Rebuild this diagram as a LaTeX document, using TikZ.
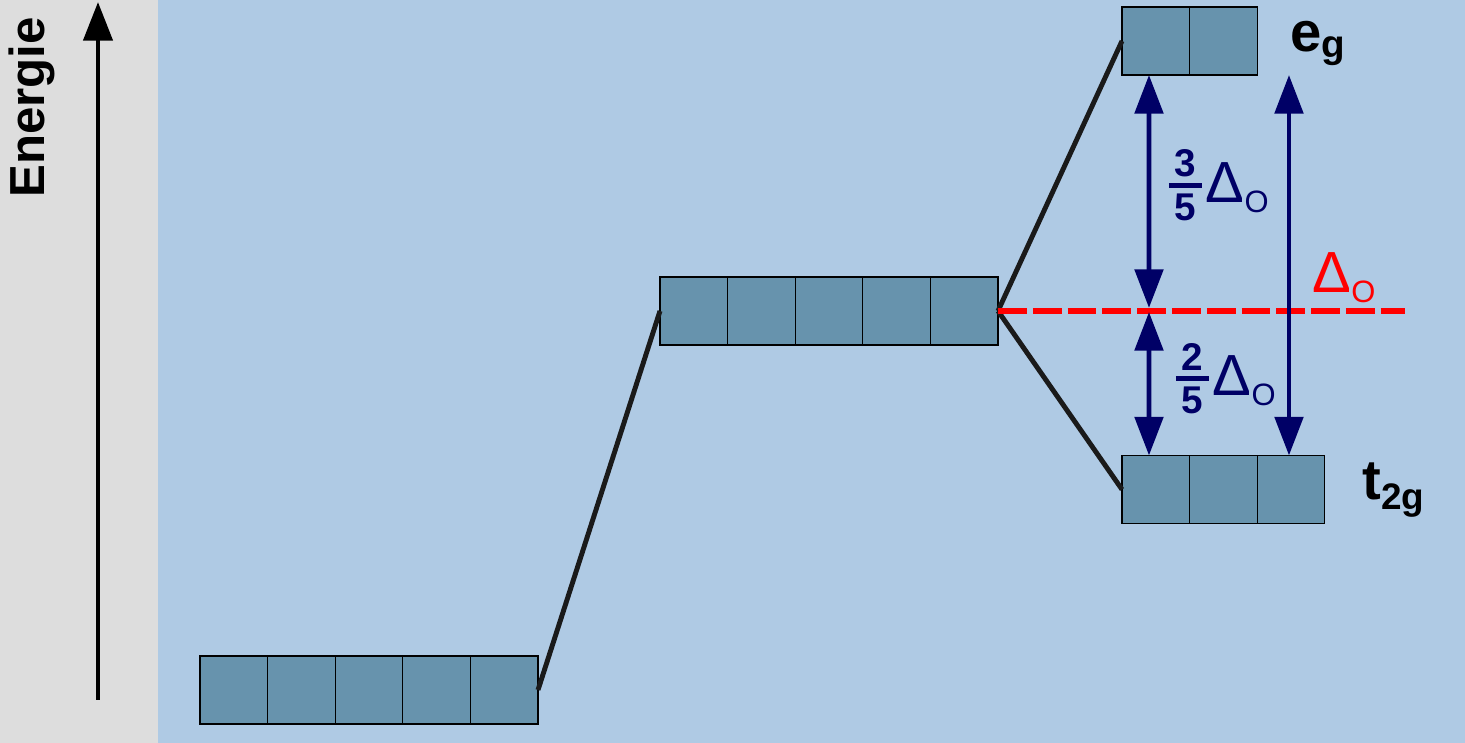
\documentclass[tikz,border=0pt]{standalone}
\usepackage{fontspec}
\setmainfont{Liberation Sans}
\usepackage{amsmath}
\usetikzlibrary{positioning, arrows.meta}

\definecolor{panelgray}{RGB}{221,221,221}
\definecolor{bgblue}{RGB}{175,202,228}
\definecolor{boxblue}{RGB}{103,147,173}
\definecolor{linegray}{RGB}{26,26,26}
\definecolor{splitnavy}{RGB}{0,0,102}

\newcommand{\dO}{{\fontsize{16.5}{18}\selectfont Δ}\raisebox{-2.8pt}{\fontsize{8.8}{10}\selectfont O}}
\newcommand{\barfrac}[2]{\raisebox{2.2pt}{$\genfrac{}{}{1.6pt}{1}{\makebox[9.3pt]{\bfseries #1}}{\makebox[9.3pt]{\bfseries #2}}$}}

\begin{document}
\begin{tikzpicture}[
    orbital/.style={draw=black, line width=0.3pt, fill=boxblue, minimum width=6.76mm,
        minimum height=6.8mm, inner sep=0, outer sep=0},
    level line/.style={draw=linegray, line width=1.4pt},
    split arrow/.style={draw=splitnavy, line width=1.4pt,
        {Triangle[length=11pt, width=8pt]}-{Triangle[length=11pt, width=8pt]}},
    navy label/.style={text=splitnavy, inner sep=0, anchor=base west, font=\fontsize{11}{13}\selectfont}
]

    \useasboundingbox (0,0) rectangle (14.65,7.43);
    \fill[panelgray] (0,0) rectangle (1.58,7.43);
    \fill[bgblue] (1.58,0) rectangle (14.65,7.43);

    % energy axis
    \coordinate (elow) at (0.98, 0.43);
    \coordinate (ehigh) at (0.98, 7.41);
    \draw[line width=1.4pt, -{Triangle[length=11pt, width=8.2pt]}] (elow) -- (ehigh);
    \node[rotate=90, anchor=base, inner sep=0, font=\fontsize{14}{16}\selectfont\bfseries]
        (energy) at (0.44, 6.355) {Energie};

    % free ion
    \node[orbital] (free1) at (2.338, 0.53) {};
    \foreach \i [count=\j from 2] in {1,...,4}
        \node[orbital, right=0pt of free\i] (free\j) {};

    % spherical field
    \node[orbital] (sph1) at (6.938, 4.32) {};
    \foreach \i [count=\j from 2] in {1,...,4}
        \node[orbital, right=0pt of sph\i] (sph\j) {};

    % octahedral field
    \node[orbital] (eg1) at (11.558, 7.02) {};
    \node[orbital, right=0pt of eg1] (eg2) {};
    \node[orbital] (t2g1) at (11.558, 2.535) {};
    \foreach \i [count=\j from 2] in {1,2}
        \node[orbital, right=0pt of t2g\i] (t2g\j) {};

    \draw[level line] (free5.east) -- (sph1.west);
    \draw[level line] (sph5.east) -- (eg1.west);
    \draw[level line] (sph5.east) -- (t2g1.west);

    \coordinate (dashend) at (14.05, 4.32);
    \draw[red, line width=1.7pt, dash pattern=on 8.2pt off 1.7pt] (sph5.east) -- (dashend);

    \coordinate (upsplit) at (11.49, 4.35);
    \coordinate (lowsplit) at (11.49, 4.31);
    \draw[split arrow] ([xshift=2.7mm]eg1.south west) -- (upsplit);
    \draw[split arrow] (lowsplit) -- ([xshift=2.7mm]t2g1.north west);
    \draw[split arrow] ([xshift=-0.2mm]t2g3.north |- eg2.south) -- ([xshift=-0.2mm]t2g3.north);

    \node[navy label] (threefifth) at (11.64, 5.40) {\barfrac{3}{5}\dO};
    \node[navy label] (twofifth) at (11.71, 3.47) {\barfrac{2}{5}\dO};
    \node[red, inner sep=0, anchor=base west] (delta) at (13.12, 4.50) {\dO};

    \node[inner sep=0, anchor=base west, font=\fontsize{16}{18}\selectfont\bfseries] (eglabel) at (12.90, 6.91)
        {e\raisebox{-1.7pt}{\fontsize{11}{12}\selectfont g}};
    \node[inner sep=0, anchor=base west, font=\fontsize{16}{18}\selectfont\bfseries] (t2glabel) at (13.62, 2.43)
        {t\raisebox{-2.8pt}{\fontsize{10.5}{12}\selectfont 2g}};

\end{tikzpicture}
\end{document}
